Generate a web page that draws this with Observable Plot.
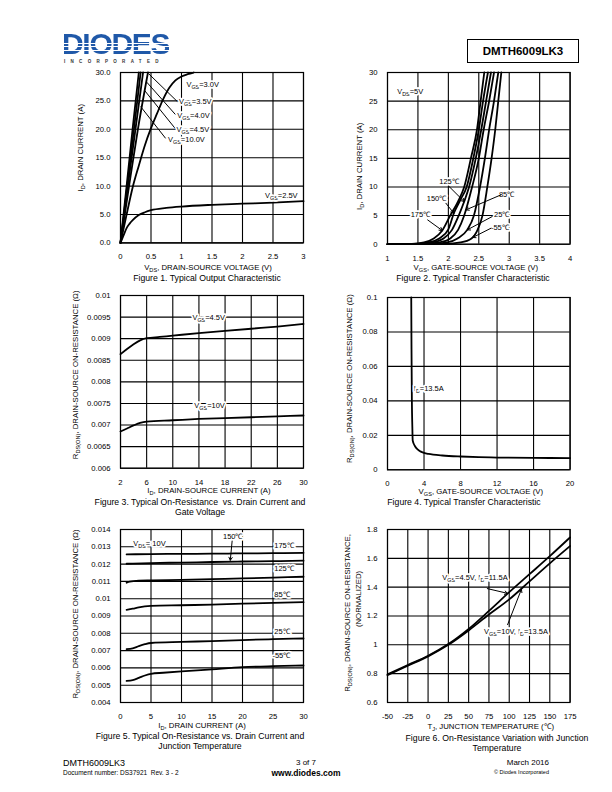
<!DOCTYPE html>
<html><head><meta charset="utf-8">
<script src="https://cdn.jsdelivr.net/npm/d3@7"></script>
<script src="https://cdn.jsdelivr.net/npm/@observablehq/plot@0.6"></script>
<style>
body{margin:0;background:#fff;font-family:"Liberation Sans",Arial,sans-serif;color:#000;}
#page{position:relative;width:612px;height:792px;overflow:hidden;background:#fff;}
.abs{position:absolute;white-space:nowrap;}
.cap{position:absolute;width:300px;text-align:center;font-size:8.7px;line-height:10px;}
.logo{position:absolute;left:62px;top:29px;height:27px;overflow:visible;font:bold 30px/1 "Liberation Sans",Arial,sans-serif;letter-spacing:-1.3px;
 background:linear-gradient(to bottom,#1f58a8 0,#1f58a8 14px,#fff 14px,#fff 15px,#1f58a8 15px,#1f58a8 17.5px,#fff 17.5px,#fff 18.5px,#1f58a8 18.5px,#1f58a8 21px,#fff 21px,#fff 22px,#1f58a8 22px);
 -webkit-background-clip:text;background-clip:text;color:transparent;}
.inc{position:absolute;left:64px;top:60px;font:bold 4.5px/1 "Liberation Sans",Arial,sans-serif;letter-spacing:5.3px;color:#333;}
.pn{position:absolute;left:467px;top:39px;width:110px;height:22px;border:1px solid #000;text-align:center;font:bold 11.5px/22px "Liberation Sans",Arial,sans-serif;}
</style></head>
<body><div id="page">
<div class="logo">DIODES</div>
<div class="inc">INCORPORATED</div>
<div class="pn">DMTH6009LK3</div>

<div class="cap" style="left:57px;top:272.5px">Figure 1. Typical Output Characteristic</div>
<div class="cap" style="left:323px;top:272.5px">Figure 2. Typical Transfer Characteristic</div>
<div class="cap" style="left:50px;top:496.5px">Figure 3. Typical On-Resistance&nbsp; vs. Drain Current and<br>Gate Voltage</div>
<div class="cap" style="left:314px;top:496.5px">Figure 4. Typical Transfer Characteristic</div>
<div class="cap" style="left:50px;top:731px">Figure 5. Typical On-Resistance vs. Drain Current and<br>Junction Temperature</div>
<div class="cap" style="left:347px;top:733px">Figure 6. On-Resistance Variation with Junction<br>Temperature</div>

<div class="abs" style="left:63px;top:758px;font-size:9px;line-height:10px">DMTH6009LK3</div>
<div class="abs" style="left:63px;top:769px;font-size:6.5px;line-height:8px">Document number: DS37921&nbsp; Rev. 3 - 2</div>
<div class="abs" style="left:256px;width:100px;text-align:center;top:758px;font-size:8px;line-height:10px">3 of 7</div>
<div class="abs" style="left:256px;width:100px;text-align:center;top:768px;font-size:8.5px;line-height:10px;font-weight:bold">www.diodes.com</div>
<div class="abs" style="left:449px;width:100px;text-align:right;top:758px;font-size:8px;line-height:10px">March 2016</div>
<div class="abs" style="left:449px;width:100px;text-align:right;top:769px;font-size:5.5px;line-height:7px">© Diodes Incorporated</div>
</div>
<script>
// ---------- Figure 1 : output characteristic ----------
const f1XTicks = [0, 0.5, 1, 1.5, 2, 2.5, 3];
const f1YTicks = [0, 5, 10, 15, 20, 25, 30];
const f1Vgs10 = [[0,0],[0.1,10],[0.2,20.2],[0.3,30]];
const f1Vgs45 = [[0,0],[0.11,10],[0.22,20],[0.33,30]];
const f1Vgs40 = [[0,0],[0.12,10],[0.245,20],[0.37,30]];
const f1Vgs35 = [[0,0],[0.14,10],[0.285,20],[0.45,30]];
const f1Vgs30 = [[0,0],[0.1,5],[0.2,9.8],[0.3,13.6],[0.4,17.2],[0.5,20.2],[0.6,22.8],[0.7,25.3],[0.8,27.3],[0.9,28.6],[1.0,29.3],[1.1,29.7],[1.2,30]];
const f1Vgs25 = [[0,0],[0.05,1.3],[0.1,2.6],[0.15,3.4],[0.2,4.0],[0.3,4.9],[0.4,5.4],[0.5,5.75],[0.75,6.15],[1.0,6.4],[1.5,6.7],[2.0,6.9],[2.5,7.1],[3.0,7.35]];
const f1Labels = [
  {text:"V_{GS}=3.0V", x:1.08, y:27.9},
  {text:"V_{GS}=3.5V", x:0.96, y:24.8},
  {text:"V_{GS}=4.0V", x:0.93, y:22.5},
  {text:"V_{GS}=4.5V", x:0.92, y:20.0},
  {text:"V_{GS}=10.0V", x:0.78, y:18.1},
  {text:"V_{GS}=2.5V", x:2.37, y:8.4}];
const f1Leaders = [
  {x1:0.46,y1:29.8,x2:0.93,y2:24.9},
  {x1:0.43,y1:28.3,x2:0.90,y2:22.6},
  {x1:0.39,y1:26.9,x2:0.90,y2:20.1},
  {x1:0.33,y1:24.0,x2:0.74,y2:18.4}];

// ---------- Figure 2 : transfer characteristic ----------
const f2XTicks = [1, 1.5, 2, 2.5, 3, 3.5, 4];
const f2YTicks = [0, 5, 10, 15, 20, 25, 30];
const f2T175 = [[1,0],[1.4,0.05],[1.6,0.3],[1.76,1],[1.9,2.4],[2.03,5],[2.16,7.5],[2.26,10],[2.37,15],[2.47,20],[2.53,25],[2.59,30]];
const f2T150 = [[1,0],[1.45,0.05],[1.68,0.3],[1.85,1],[2.0,2.6],[2.09,5.4],[2.2,7.8],[2.3,10],[2.41,15],[2.5,20],[2.57,25],[2.65,30]];
const f2T125 = [[1,0],[1.5,0.05],[1.73,0.3],[1.92,1],[2.06,2.5],[2.17,5],[2.26,7.45],[2.34,10],[2.45,15],[2.54,20],[2.62,25],[2.70,30]];
const f2T85 = [[1,0],[1.6,0.05],[1.85,0.3],[2.03,1],[2.16,2.5],[2.26,5],[2.39,10],[2.5,15],[2.58,20],[2.67,25],[2.75,30]];
const f2T25 = [[1,0],[1.75,0.05],[1.98,0.3],[2.15,1],[2.31,2.5],[2.42,5],[2.52,10],[2.6,15],[2.67,20],[2.75,25],[2.82,30]];
const f2Tm55 = [[1,0],[1.95,0.05],[2.2,0.3],[2.38,1],[2.48,2.5],[2.56,5],[2.64,10],[2.71,15],[2.77,20],[2.82,25],[2.87,30]];
const f2Labels = [
  {text:"V_{DS}=5V", x:1.16, y:26.7},
  {text:"125℃", x:1.85, y:11.0},
  {text:"150℃", x:1.645, y:8.0},
  {text:"175℃", x:1.38, y:5.1},
  {text:"85℃", x:2.83, y:8.7},
  {text:"25℃", x:2.75, y:5.1},
  {text:"-55℃", x:2.70, y:2.9}];
const f2Arrows = [
  {x1:2.01,y1:10.1,x2:2.26,y2:7.45},
  {x1:1.96,y1:7.15,x2:2.09,y2:5.4},
  {x1:1.66,y1:4.24,x2:1.90,y2:2.39},
  {x1:2.86,y1:8.6,x2:2.29,y2:6.0},
  {x1:2.72,y1:4.83,x2:2.31,y2:2.5},
  {x1:2.70,y1:2.79,x2:2.40,y2:1.17}];

// ---------- Figure 3 : Rds(on) vs drain current & VGS ----------
const f3XTicks = [2, 6, 10, 14, 18, 22, 26, 30];
const f3YTicks = [0.006, 0.0065, 0.007, 0.0075, 0.008, 0.0085, 0.009, 0.0095, 0.01];
const f3Vgs45 = [[2,0.00864],[3,0.00876],[4,0.00887],[5,0.00896],[6,0.00901],[8,0.00904],[10,0.00907],[14,0.00913],[18,0.00918],[22,0.00923],[26,0.00928],[30,0.00934]];
const f3Vgs10 = [[2,0.00685],[3,0.00692],[4,0.00699],[5,0.00705],[6,0.00708],[10,0.00711],[14,0.00714],[18,0.00716],[22,0.00718],[26,0.0072],[30,0.00722]];
const f3Labels = [
  {text:"V_{GS}=4.5V", x:13.0, y:0.00949},
  {text:"V_{GS}=10V", x:13.3, y:0.00745}];

// ---------- Figure 4 : Rds(on) vs VGS ----------
const f4XTicks = [0, 4, 8, 12, 16, 20];
const f4YTicks = [0, 0.02, 0.04, 0.06, 0.08, 0.1];
const f4Id135 = [[2.6,0.1],[2.63,0.07],[2.67,0.04],[2.72,0.025],[2.76,0.017],[3.0,0.0138],[3.3,0.0118],[3.6,0.0107],[4,0.0098],[4.5,0.0092],[5,0.0088],[6,0.0083],[8,0.0077],[10,0.0073],[12,0.0071],[16,0.0069],[20,0.0068]];
const f4Labels = [{text:"I_{D}=13.5A", x:2.88, y:0.047}];

// ---------- Figure 5 : Rds(on) vs drain current & temperature ----------
const f5XTicks = [0, 5, 10, 15, 20, 25, 30];
const f5YTicks = [0.004, 0.005, 0.006, 0.007, 0.008, 0.009, 0.01, 0.011, 0.012, 0.013, 0.014];
const f5T175 = [[1,0.01256],[5,0.01258],[10,0.01259],[15,0.0126],[20,0.01262],[25,0.01263],[30,0.01265]];
const f5T150 = [[1,0.01202],[5,0.01206],[10,0.01209],[15,0.01212],[20,0.01215],[25,0.01217],[30,0.0122]];
const f5T125 = [[1,0.01092],[1.5,0.01098],[3,0.01104],[5,0.01106],[10,0.01109],[15,0.01113],[20,0.01117],[25,0.01122],[30,0.01127]];
const f5T85 = [[1,0.00936],[2,0.00942],[3,0.0095],[5,0.00958],[10,0.00962],[15,0.00966],[20,0.00971],[25,0.00976],[30,0.0098]];
const f5T25 = [[1,0.00708],[2,0.00713],[3,0.00726],[4,0.00737],[5,0.00744],[10,0.0075],[15,0.00755],[20,0.00761],[25,0.00766],[30,0.0077]];
const f5Tm55 = [[1,0.00525],[2,0.00529],[3,0.00542],[4,0.00556],[5,0.00566],[7,0.00572],[10,0.0058],[15,0.00592],[20,0.00604],[25,0.0061],[30,0.00614]];
const f5Labels = [
  {text:"V_{DS}= 10V", x:2.1, y:0.01317},
  {text:"150℃", x:16.8, y:0.01358},
  {text:"175℃", x:25.2, y:0.01306},
  {text:"125℃", x:25.2, y:0.01173},
  {text:"85℃", x:25.2, y:0.01023},
  {text:"25℃", x:25.2, y:0.00809},
  {text:"-55℃", x:24.9, y:0.00671}];
const f5Arrows = [{x1:18.3,y1:0.01333,x2:18.0,y2:0.01222}];

// ---------- Figure 6 : normalized Rds(on) vs junction temperature ----------
const f6XTicks = [-50, -25, 0, 25, 50, 75, 100, 125, 150, 175];
const f6YTicks = [0.6, 0.8, 1, 1.2, 1.4, 1.6, 1.8];
const f6Vgs45 = [[-50,0.795],[-25,0.86],[0,0.924],[25,1.005],[50,1.11],[75,1.235],[100,1.365],[125,1.49],[150,1.615],[175,1.745]];
const f6Vgs10 = [[-50,0.79],[-25,0.855],[0,0.92],[25,1.0],[50,1.1],[75,1.21],[100,1.315],[125,1.44],[150,1.565],[175,1.685]];
const f6Labels = [
  {text:"V_{GS}=4.5V, I_{D}=11.5A", x:17.5, y:1.465},
  {text:"V_{GS}=10V, I_{D}=13.5A", x:69, y:1.095}];
const f6Arrows = [
  {x1:73,y1:1.39,x2:98,y2:1.357},
  {x1:98,y1:1.14,x2:115,y2:1.385}];

// ---------- helpers ----------
const page = document.getElementById("page");
const FONT = "'Liberation Sans', Arial, Helvetica, sans-serif";
const fmt = d => String(+d.toFixed(5));
const SVGNS = "http://www.w3.org/2000/svg";

function subscriptify(svg) {
  svg.querySelectorAll("text").forEach(t => {
    const s = t.textContent;
    if (!s.includes("_{")) return;
    const parts = s.split(/(_\{[^}]*\})/);
    while (t.firstChild) t.removeChild(t.firstChild);
    let shifted = false;
    parts.forEach(p => {
      if (!p) return;
      const ts = document.createElementNS(SVGNS, "tspan");
      if (p.startsWith("_{")) {
        ts.textContent = p.slice(2, -1);
        ts.setAttribute("font-size", "72%");
        ts.setAttribute("dy", "2");
        shifted = true;
      } else {
        ts.textContent = p;
        if (shifted) { ts.setAttribute("dy", "-2"); shifted = false; }
      }
      t.appendChild(ts);
    });
  });
}

const curve = (data) => Plot.line(data, {x: d => d[0], y: d => d[1], stroke: "#000", strokeWidth: 1.8, curve: "monotone-x"});
const labels = (data) => Plot.text(data, {x: "x", y: "y", text: "text", textAnchor: "start", lineAnchor: "middle", fontSize: 7.5, fill: "#000", stroke: "#fff", strokeWidth: 3.5});
const arrows = (data) => Plot.arrow(data, {x1: "x1", y1: "y1", x2: "x2", y2: "y2", stroke: "#000", strokeWidth: 1, headLength: 5});

function makeChart(o) {
  const mL = 70, mT = 10, mR = 12, mB = 40;
  const w = o.right - o.left, h = o.bottom - o.top;
  const grid = {stroke: "#000", strokeOpacity: 1, strokeWidth: 1.1};
  const marks = [
    Plot.gridX(o.xTicks, grid),
    Plot.gridY(o.yTicks, grid),
    Plot.axisX(o.xTicks, {tickSize: 0, tickPadding: 11, tickFormat: o.xFmt || fmt, label: null}),
    Plot.axisY(o.yTicks, {tickSize: 0, tickPadding: 10, tickFormat: o.yFmt || fmt, label: null}),
    ...o.marks,
    Plot.frame({stroke: "#000", strokeWidth: 1.2}),
    Plot.text([o.xLabel], {frameAnchor: "bottom", textAnchor: "middle", lineAnchor: "middle", dx: o.xLabelDx || 0, dy: o.xLabelDy, text: d => d, fontSize: 7.8, fill: "#000"}),
    ...o.yLabels.map(l => Plot.text([l.text], {frameAnchor: "left", textAnchor: "middle", lineAnchor: "middle", rotate: -90, dx: l.dx, dy: l.dy || 0, text: d => d, fontSize: 7.8, fill: "#000"}))
  ];
  const svg = Plot.plot({
    width: mL + w + mR, height: mT + h + mB,
    marginLeft: mL, marginRight: mR, marginTop: mT, marginBottom: mB,
    x: {type: "linear", domain: o.xDomain},
    y: {type: "linear", domain: o.yDomain},
    style: {fontFamily: FONT, fontSize: "7.7px", background: "transparent", color: "#000", overflow: "visible"},
    marks
  });
  subscriptify(svg);
  svg.style.position = "absolute";
  svg.style.left = (o.left - mL) + "px";
  svg.style.top = (o.top - mT) + "px";
  svg.style.maxWidth = "none";
  page.appendChild(svg);
}

const RDS = "R_{DS(ON)}, DRAIN-SOURCE ON-RESISTANCE";

makeChart({
  left: 120.3, top: 72.3, right: 303.3, bottom: 242.7,
  xDomain: [0, 3], yDomain: [0, 30], xTicks: f1XTicks, yTicks: f1YTicks,
  yFmt: d3.format(".1f"),
  xLabel: "V_{DS}, DRAIN-SOURCE VOLTAGE (V)", xLabelDx: -4, xLabelDy: 25,
  yLabels: [{text: "I_{D}, DRAIN CURRENT (A)", dx: -40, dy: -10}],
  marks: [curve(f1Vgs10), curve(f1Vgs45), curve(f1Vgs40), curve(f1Vgs35), curve(f1Vgs30), curve(f1Vgs25),
    Plot.link(f1Leaders, {x1: "x1", y1: "y1", x2: "x2", y2: "y2", stroke: "#000", strokeWidth: 1}),
    labels(f1Labels)]
});

makeChart({
  left: 386.7, top: 72.3, right: 569.3, bottom: 244,
  xDomain: [1, 4], yDomain: [0, 30], xTicks: f2XTicks, yTicks: f2YTicks,
  xLabel: "V_{GS}, GATE-SOURCE VOLTAGE (V)", xLabelDx: -3, xLabelDy: 23,
  yLabels: [{text: "I_{D}, DRAIN CURRENT (A)", dx: -28, dy: 8}],
  marks: [curve(f2T175), curve(f2T150), curve(f2T125), curve(f2T85), curve(f2T25), curve(f2Tm55),
    labels(f2Labels), arrows(f2Arrows)]
});

makeChart({
  left: 120.3, top: 295, right: 303.3, bottom: 467.7,
  xDomain: [2, 30], yDomain: [0.006, 0.01], xTicks: f3XTicks, yTicks: f3YTicks,
  xLabel: "I_{D}, DRAIN-SOURCE CURRENT (A)", xLabelDx: -3, xLabelDy: 22.5,
  yLabels: [{text: RDS + " (Ω)", dx: -45, dy: -7}],
  marks: [curve(f3Vgs45), curve(f3Vgs10), labels(f3Labels)]
});

makeChart({
  left: 386.7, top: 296.7, right: 569.3, bottom: 469,
  xDomain: [0, 20], yDomain: [0, 0.1], xTicks: f4XTicks, yTicks: f4YTicks,
  xLabel: "V_{GS}, GATE-SOURCE VOLTAGE (V)", xLabelDx: 2, xLabelDy: 22,
  yLabels: [{text: RDS + " (Ω)", dx: -38, dy: -5}],
  marks: [curve(f4Id135), labels(f4Labels)]
});

makeChart({
  left: 120.3, top: 528.7, right: 303.3, bottom: 701.7,
  xDomain: [0, 30], yDomain: [0.004, 0.014], xTicks: f5XTicks, yTicks: f5YTicks,
  xLabel: "I_{D}, DRAIN CURRENT (A)", xLabelDx: -10, xLabelDy: 22.5,
  yLabels: [{text: RDS + " (Ω)", dx: -45, dy: -2}],
  marks: [curve(f5T175), curve(f5T150), curve(f5T125), curve(f5T85), curve(f5T25), curve(f5Tm55),
    labels(f5Labels), arrows(f5Arrows)]
});

makeChart({
  left: 386.7, top: 528.7, right: 569.3, bottom: 701.7,
  xDomain: [-50, 175], yDomain: [0.6, 1.8], xTicks: f6XTicks, yTicks: f6YTicks,
  xLabel: "T_{J}, JUNCTION TEMPERATURE (℃)", xLabelDx: 12, xLabelDy: 24,
  yLabels: [{text: RDS + ",", dx: -40, dy: -3}, {text: "(NORMALIZED)", dx: -29, dy: -17}],
  marks: [curve(f6Vgs45), curve(f6Vgs10), labels(f6Labels), arrows(f6Arrows)]
});
</script>
</body></html>
